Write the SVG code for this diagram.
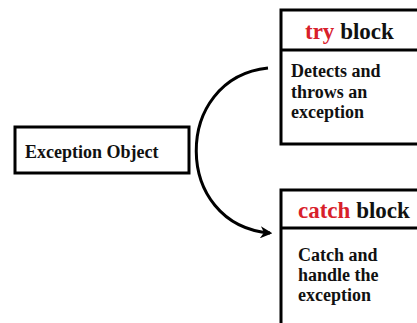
<svg xmlns="http://www.w3.org/2000/svg" width="417" height="323" viewBox="0 0 417 323">
<style>
.box{fill:#fff;stroke:#000;stroke-width:3}
.t{font-family:"Liberation Serif","Times New Roman",serif;font-weight:bold;fill:#111}
.h{font-size:23px}
.b{font-size:18px}
.red{fill:#d8202a}
.conn{fill:none;stroke:#000;stroke-width:3}
</style>
<defs>
<marker id="arr" viewBox="0 0 10 10" refX="8" refY="5" markerWidth="4" markerHeight="4" orient="auto" markerUnits="strokeWidth">
<path d="M0,0 L10,5 L0,10 L3,5 Z" fill="#000"/>
</marker>
</defs>
<rect width="417" height="323" fill="#fff"/>
<g id="exception-object">
<rect class="box" x="15" y="127" width="174" height="46"/>
<text class="t b" x="25" y="158">Exception Object</text>
</g>
<g id="try-block">
<rect class="box" x="281" y="10" width="145" height="134"/>
<line x1="281" y1="50" x2="420" y2="50" stroke="#000" stroke-width="3"/>
<text class="t h" x="305" y="39"><tspan class="red">try</tspan> block</text>
<text class="t b" x="291" y="77">Detects and</text>
<text class="t b" x="291" y="98">throws an</text>
<text class="t b" x="291" y="118">exception</text>
</g>
<g id="catch-block">
<rect class="box" x="281" y="190" width="145" height="140"/>
<line x1="281" y1="228" x2="420" y2="228" stroke="#000" stroke-width="3"/>
<text class="t h" x="298" y="218"><tspan class="red">catch</tspan> block</text>
<text class="t b" x="298" y="261">Catch and</text>
<text class="t b" x="298" y="281">handle the</text>
<text class="t b" x="298" y="301">exception</text>
</g>
<g id="connectors">
<path class="conn" d="M268,68 C172,78 172,225 270,233" marker-end="url(#arr)"/>
</g>
</svg>
